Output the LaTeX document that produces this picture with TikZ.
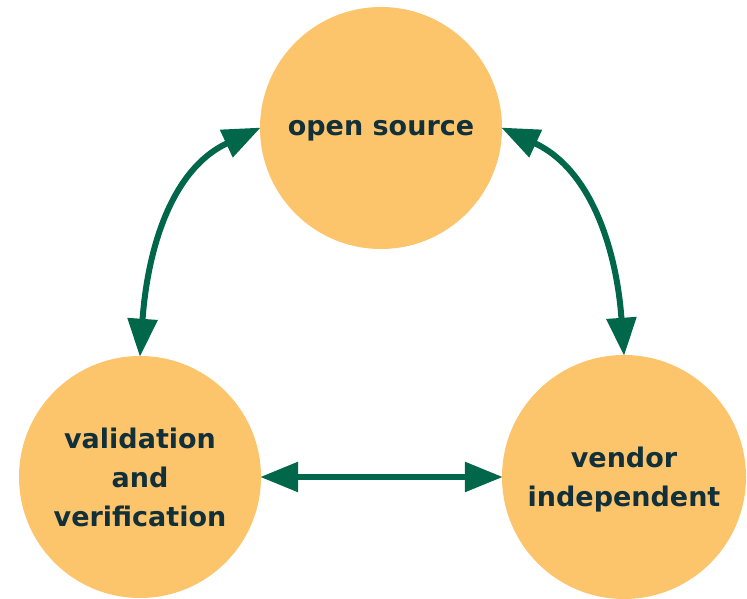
\documentclass[tikz,border=0pt]{standalone}
\usepackage{fontspec}
\setmainfont{DejaVu Sans}
\usepackage{tikz}
\usetikzlibrary{arrows.meta}
\usepackage{xcolor}
\definecolor{CycleGold}{HTML}{FCC56B}
\definecolor{CycleGreen}{HTML}{00674A}
\definecolor{CycleInk}{HTML}{12303A}
\tikzset{
  pillar/.style={circle,fill=CycleGold,draw=none,minimum size=242pt,inner sep=0pt,align=center,text depth=0pt,text=CycleInk,font=\fontsize{27}{39}\selectfont\bfseries},
  twoway/.style={{Triangle[length=38pt,width=29pt]}-{Triangle[length=38pt,width=29pt]},line width=6pt,draw=CycleGreen,shorten <=-1pt,shorten >=-1pt}
}
\begin{document}
\begin{tikzpicture}[x=1pt,y=1pt]
  \useasboundingbox (0,0) rectangle (747,599);
  \node[pillar] (os) at (381,471) {open source};
  \node[pillar] (vv) at (140,122) {validation\\and\\verification};
  \node[pillar,minimum size=244pt] (vi) at (624,122) {vendor\\independent};
  \draw[twoway] (os.west) to[out=205,in=86] (vv.north);
  \draw[twoway] (os.east) to[out=-25,in=94] (vi.north);
  \draw[twoway] (vv.east) -- (vi.west);
\end{tikzpicture}
\end{document}
